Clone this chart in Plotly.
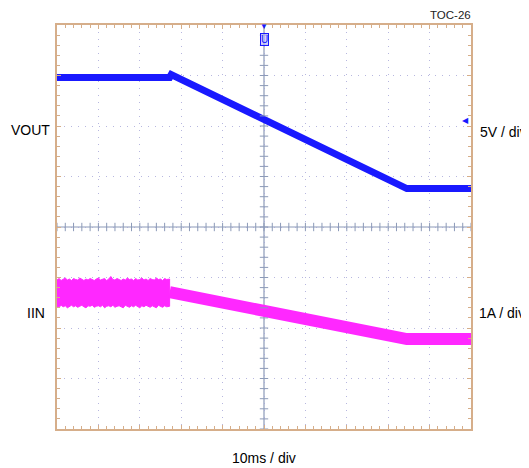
import numpy as np
import plotly.graph_objects as go

# --- scope capture, values in divisions (x: 10ms/div, y: 5V/div and 1A/div) ---
vout_t = [0.0, 2.72, 2.76, 8.45, 10.0]
vout_y = [2.96, 2.96, 3.02, 0.76, 0.76]

# switching-noise band on IIN before the ramp (hand read upper / lower edges)
iin_noise_t = [0.00, 0.05, 0.10, 0.15, 0.20, 0.25, 0.30, 0.35, 0.40, 0.45, 0.50, 0.55,
               0.60, 0.65, 0.70, 0.75, 0.80, 0.85, 0.90, 0.95, 1.00, 1.05, 1.10, 1.15,
               1.20, 1.25, 1.30, 1.35, 1.40, 1.45, 1.50, 1.55, 1.60, 1.65, 1.70, 1.75,
               1.80, 1.85, 1.90, 1.95, 2.00, 2.05, 2.10, 2.15, 2.20, 2.25, 2.30, 2.35,
               2.40, 2.45, 2.50, 2.55, 2.60, 2.65, 2.72]
iin_noise_hi = [-1.05, -1.02, -1.06, -1.04, -1.01, -1.05, -1.03, -1.06, -1.02, -1.04,
                -1.05, -1.01, -1.04, -1.06, -1.03, -1.05, -1.02, -1.04, -1.06, -1.03,
                -1.01, -1.05, -1.04, -1.02, -1.06, -1.03, -0.98, -1.04, -1.05, -1.02,
                -1.04, -1.06, -1.03, -1.05, -1.01, -1.04, -1.03, -1.06, -1.02, -1.05,
                -1.04, -1.01, -1.05, -1.03, -1.06, -1.02, -1.04, -1.05, -1.01, -1.04,
                -1.03, -1.06, -1.02, -1.04, -1.03]
iin_noise_lo = [-1.57, -1.59, -1.55, -1.58, -1.56, -1.60, -1.57, -1.55, -1.58, -1.56,
                -1.59, -1.57, -1.55, -1.58, -1.60, -1.56, -1.57, -1.55, -1.59, -1.57,
                -1.56, -1.58, -1.55, -1.60, -1.57, -1.56, -1.58, -1.55, -1.59, -1.57,
                -1.56, -1.58, -1.60, -1.55, -1.57, -1.59, -1.56, -1.58, -1.55, -1.57,
                -1.60, -1.56, -1.58, -1.55, -1.57, -1.59, -1.56, -1.58, -1.60, -1.55,
                -1.57, -1.59, -1.56, -1.58, -1.57]
iin_t = [2.72, 5.0, 7.5, 8.45, 10.0]
iin_y = [-1.29, -1.66, -2.06, -2.22, -2.22]

BLUE = "rgb(25,25,255)"
PINK = "rgb(255,40,255)"
FRAME = "#d6ae8a"
GRID = "rgba(165,165,215,0.8)"
AXIS = "#8c9ab8"

fig = go.Figure()

fig.add_trace(go.Scatter(
    x=iin_noise_t + iin_noise_t[::-1],
    y=iin_noise_hi + iin_noise_lo[::-1],
    fill="toself", fillcolor=PINK, mode="lines",
    line=dict(color=PINK, width=1), hoverinfo="skip", showlegend=False))
fig.add_trace(go.Scatter(x=iin_t, y=iin_y, mode="lines",
                         line=dict(color=PINK, width=12), showlegend=False))
fig.add_trace(go.Scatter(x=vout_t, y=vout_y, mode="lines",
                         line=dict(color=BLUE, width=7), showlegend=False))

# tick marks on the centre cross-hair
minor_x = np.arange(0, 10.01, 0.2)
minor_y = np.arange(-4, 4.01, 0.2)
fig.add_trace(go.Scatter(x=minor_x, y=[0] * len(minor_x), mode="markers",
                         marker=dict(symbol="line-ns", size=6, line=dict(color=AXIS, width=1)),
                         hoverinfo="skip", showlegend=False, cliponaxis=False))
fig.add_trace(go.Scatter(x=[5] * len(minor_y), y=minor_y, mode="markers",
                         marker=dict(symbol="line-ew", size=6, line=dict(color=AXIS, width=1)),
                         hoverinfo="skip", showlegend=False, cliponaxis=False))

fig.add_shape(type="line", x0=0, x1=10, y0=0, y1=0, line=dict(color=AXIS, width=1.2), layer="below")
fig.add_shape(type="line", x0=5, x1=5, y0=-4, y1=4, line=dict(color=AXIS, width=1.2), layer="below")

axis_common = dict(
    showgrid=True, gridcolor=GRID, gridwidth=1, griddash="1px,6px",
    zeroline=False, showticklabels=False,
    showline=True, linecolor=FRAME, linewidth=2, mirror="allticks",
    ticks="inside", ticklen=4, tickcolor=FRAME, dtick=1,
    minor=dict(ticks="inside", ticklen=3, tickcolor=FRAME, dtick=0.2, showgrid=False),
    fixedrange=True,
)
fig.update_xaxes(range=[0, 10], **axis_common)
fig.update_yaxes(range=[-4, 4], **axis_common)

font = dict(family="Liberation Sans, Arial, sans-serif", size=14, color="black")
ann = [
    dict(text="VOUT", x=-0.012, y=1.92, xref="paper", yref="y", xanchor="right"),
    dict(text="IIN", x=-0.024, y=-1.70, xref="paper", yref="y", xanchor="right"),
    dict(text="5V / div", x=1.016, y=1.89, xref="paper", yref="y", xanchor="left"),
    dict(text="1A / div", x=1.014, y=-1.70, xref="paper", yref="y", xanchor="left"),
    dict(text="10ms / div", x=0.5, y=-0.072, xref="paper", yref="paper", yanchor="middle"),
]
for a in ann:
    fig.add_annotation(showarrow=False, font=font, **a)
fig.add_annotation(text="TOC-26", x=1.005, y=1.0, xref="paper", yref="paper",
                   xanchor="right", yanchor="bottom", yshift=2, showarrow=False,
                   font=dict(family="Liberation Sans, Arial, sans-serif", size=11.5, color="#222"))
# trigger markers
fig.add_annotation(text="▼", x=5, y=4, xref="x", yref="y", yanchor="middle", showarrow=False,
                   font=dict(size=8, color=BLUE))
fig.add_annotation(text="U", x=5, y=3.72, xref="x", yref="y", showarrow=False,
                   font=dict(family="Liberation Sans, Arial", size=10, color=BLUE),
                   bordercolor=BLUE, borderwidth=1, borderpad=0, bgcolor="rgba(180,180,255,0.6)")
fig.add_annotation(text="◀", x=10, y=2.12, xref="x", yref="y", xanchor="right", showarrow=False,
                   font=dict(size=8, color=BLUE))

# page body has an 8px margin, so the figure is sized to the visible area
fig.update_layout(
    width=521, height=460,
    margin=dict(l=49, r=58, t=17, b=39),
    paper_bgcolor="white", plot_bgcolor="white",
    showlegend=False,
)

fig.write_html("out.html")
